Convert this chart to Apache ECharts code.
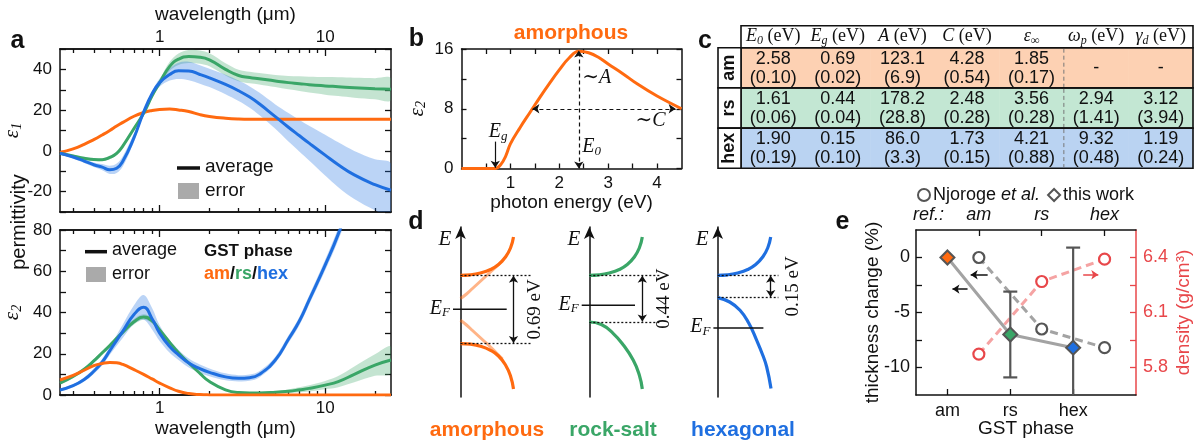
<!DOCTYPE html>
<html><head><meta charset="utf-8">
<script src="https://cdn.jsdelivr.net/npm/echarts@6/dist/echarts.min.js"></script>
<style>html,body{margin:0;padding:0;background:#fff}#c{width:1200px;height:446px}</style>
</head><body><div id="c"></div>
<script>
// ================= DATA =================
// panel a : permittivity vs wavelength (µm)
const wavelength = [0.25,0.3,0.35,0.4,0.45,0.5,0.55,0.6,0.7,0.8,0.9,1.0,1.15,1.3,1.5,1.75,2,2.5,3,3.5,4,5,6,7,8,10,12,15,20,25];
const eps1_am  = [-0.8,1.0,3.2,5.5,7.8,10,12.2,14,17,18.8,19.8,20.3,20.5,20.1,19.3,17.8,16.9,16.0,15.6,15.5,15.5,15.5,15.5,15.5,15.5,15.5,15.5,15.5,15.5,15.5];
const eps1_rs  = [-1.2,-2.5,-3.6,-4.2,-4.3,-3.2,-1.2,2.5,11,18.5,27,33.5,41.5,45,46.3,46,44.7,40,37,36,35.4,34.3,33.5,33,32.5,31.9,31.5,31,30.5,30.2];
const eps1_rs_err = [0.6,0.6,0.6,0.7,0.7,0.8,0.8,0.9,1,1,1.2,1.5,2.2,2.8,3.2,3.3,3.2,3,2.8,2.8,2.8,3,3.3,3.6,3.9,4.3,4.6,4.9,5.2,5.4];
const eps1_hex = [-1.2,-3,-5,-6.8,-8.0,-9.3,-8.5,-5,6.5,19,28,33.5,37.5,39.3,39.2,37.5,35.8,32.6,29.5,26.4,23.1,16.8,11.6,7.4,3.8,-2.1,-6.8,-11.8,-16.6,-19.3];
const eps1_hex_err = [0.5,0.7,0.9,1.1,1.5,2,2.3,2.5,2,1.2,1.2,2,3,4,4.5,4.5,4.5,4.8,5,5.2,5.5,6,7,7.8,8.5,10,11,11.8,12.5,13];
const eps2_am  = [7.3,9.5,12,14.2,15.3,15.8,15.6,14.8,12.3,10,7.8,5.8,3.5,1.8,0.7,0.2,0.05,0,0,0,0,0,0,0,0,0,0,0,0,0];
const eps2_rs  = [5.8,9,12.5,16.5,20.5,24,27.5,30.5,35.5,37.8,36,31.5,25.5,20.5,15.5,10.5,6.5,2.5,1.2,1,1,1.3,1.8,2.5,3.2,4.8,6.5,10,14.5,17];
const eps2_rs_err = [0.6,0.7,0.8,0.9,1,1,1.1,1.2,1.3,1.3,1.2,1,0.9,0.8,0.7,0.6,0.5,0.4,0.4,0.4,0.5,0.7,0.9,1.2,1.5,2,2.7,3.8,5.2,6.5];
const eps2_hex = [2.4,4.5,7.5,11.5,16,21.5,26.5,31,39,42.5,37,30,23.5,19.5,15.5,12.8,11,8.8,8.1,8.4,10,17,27,36,46,63,78,100,140,180];
const eps2_hex_err = [0.5,0.7,1,1.3,1.6,2,2.6,3.3,4.5,6,5.2,3.8,3,2.5,2.2,2,1.9,1.7,1.5,1.5,1.5,1.6,1.8,2,2.2,2.6,3,3.5,4,4.5];
const wlMajor = [1, 10];
const wlMinor = [0.3,0.4,0.5,0.6,0.7,0.8,0.9,2,3,4,5,6,7,8,9,20];
const eps1Ticks = [-30,-20,-10,0,10,20,30,40,50];
const eps1Labels = [-20,0,20,40];
const eps2Ticks = [0,10,20,30,40,50,60,70,80];
const eps2Labels = [0,20,40,60,80];

// panel b : Tauc-Lorentz eps2 of amorphous phase
const photonEnergy = [0,0.5,0.69,0.8,0.9,1.0,1.2,1.4,1.6,1.8,2.0,2.2,2.4,2.6,2.8,3.0,3.3,3.6,4.0,4.5];
const tlEps2 = [0,0,0,0.5,1.6,3.3,5.5,7.5,9.5,11.4,13.2,14.8,15.7,15.5,14.9,14,12.7,11.3,9.7,8.0];
const energyTicks = [0.5,1,1.5,2,2.5,3,3.5,4];
const energyLabels = [1,2,3,4];
const tlTicks = [0,4,8,12,16];
const tlLabels = [0,8,16];
const peakE = 2.4, peakEps = 15.8, gapE = 0.69, widthEps = 8, widthFrom = 1.45, widthTo = 4.38;

// panel c : fit parameters
const tableRows = ['am','rs','hex'];
const tableHeaders = ['{i|E}{s|0}{r| (eV)}','{i|E}{s|g}{r| (eV)}','{i|A}{r| (eV)}','{i|C}{r| (eV)}','{i|ε}{s|∞}','{i|ω}{s|p}{r| (eV)}','{i|γ}{s|d}{r| (eV)}'];
const val_am  = ['2.58','0.69','123.1','4.28','1.85','-','-'];
const err_am  = ['0.10','0.02','6.9','0.54','0.17','',''];
const val_rs  = ['1.61','0.44','178.2','2.48','3.56','2.94','3.12'];
const err_rs  = ['0.06','0.04','28.8','0.28','0.28','1.41','3.94'];
const val_hex = ['1.90','0.15','86.0','1.73','4.21','9.32','1.19'];
const err_hex = ['0.19','0.10','3.3','0.15','0.88','0.48','0.24'];

// panel d : schematic band diagrams (schematic energy units)
const bandNames = ['amorphous','rock-salt','hexagonal'];
const gapText = ['0.69 eV','0.44 eV','0.15 eV'];
const cbEdge = [121.7,121.7,121.7];
const vbEdge = [53.4,75,99.4];
const efLevel = [87.7,91.7,69];
const efSpan = [[-7.5,46.2],[-7.6,45.7],[-4.3,45.7]];
const dotEnd = [70,70.7,60.7];
const gapArrowK = 53;
const cb_am  = [[0,121.7],[10,122.2],[20,124],[30,127.5],[38,132.5],[45,140],[50,149],[53,160]];
const cb_rs  = [[0,121.7],[10,122.2],[20,124],[30,127.5],[38,132.5],[45,140],[50,149],[53,160]];
const cb_hex = [[0,121.7],[10,122.2],[20,124],[30,127.5],[38,132.5],[45,140],[50,149],[53,160]];
const vb_am  = [[0,53.4],[10,52.8],[20,50.8],[30,46.7],[38,41],[45,32],[50,21],[53,8]];
const vb_rs  = [[0,75],[12,72.5],[24,63.4],[34,52],[44,36.7],[50,22],[53,8]];
const vb_hex = [[0,99.4],[12,95],[22.3,86.7],[31,74],[39,56.7],[45,42],[49,30],[53.3,8.4]];
const tailCb_am = [[0,98.4],[6,103],[12,108.5],[18,114],[24,119.5],[30,125],[36,130.5],[42,136]];
const tailVb_am = [[0,76.7],[6,72],[12,66.5],[18,61],[24,55.5],[30,50],[36,44],[42,38]];

// panel e : thickness change & density
const gstPhases = ['am','rs','hex'];
const thisWorkX = [0,1,2];
const thisWorkThick = [0,-7.0,-8.2];
const thisWorkErr = [0,3.9,9.1];
const refX = [0.5,1.5,2.5];
const refThick = [0,-6.5,-8.2];
const refDensity = [5.873,6.269,6.391];
const thickTicks = [-10,-7.5,-5,-2.5,0];
const thickLabels = [-10,-5,0];
const densTicks = [5.8,5.95,6.1,6.25,6.4];
const densLabels = [5.8,6.1,6.4];

// ================= STYLE =================
const SANS = '"Liberation Sans", Arial, Helvetica, sans-serif';
const SERIF = '"Liberation Serif", "DejaVu Serif", "Times New Roman", serif';
const INK = '#111111';
const C_AM = '#ff6a10', C_RS = '#3aa667', C_HEX = '#1f6fe0';
const F_RS = 'rgba(58,166,103,0.30)', F_HEX = 'rgba(31,111,224,0.30)';
const RED = '#e8474a';
const ROWFILL = ['#fdd1b3','#c3e7d3','#bad3f2'];
const PHASECOL = [C_AM, C_RS, C_HEX];

function clean(o){
  if (Array.isArray(o)) return o.map(clean);
  if (o && typeof o === 'object' && !(o instanceof Function)) {
    const r = {};
    for (const k in o) if (o[k] !== undefined) r[k] = clean(o[k]);
    return r;
  }
  return o;
}
const mathRich = (fs) => ({
  i:{fontFamily:SERIF,fontStyle:'italic',fontSize:fs,lineHeight:fs+2,color:INK,fill:INK},
  s:{fontFamily:SERIF,fontStyle:'italic',fontSize:Math.round(fs*0.65),lineHeight:Math.round(fs*0.65),verticalAlign:'bottom',color:INK,fill:INK},
  n:{fontFamily:SERIF,fontSize:fs,lineHeight:fs+2,color:INK,fill:INK},
  r:{fontFamily:SERIF,fontSize:fs,lineHeight:fs+2,color:INK,fill:INK}
});

function ax(o){
  const color = o.color || INK;
  const a = {
    type:o.type||'value', gridIndex:o.grid, position:o.pos, min:o.min, max:o.max, show:o.show!==false,
    axisLine:{show:true,onZero:!!o.onZero,lineStyle:{color,width:1.5},symbol:o.symbol,symbolSize:o.symbolSize},
    axisTick:{show:!!o.ticks,inside:true,length:o.tickLen||6,customValues:o.ticks,lineStyle:{color,width:1.3}},
    axisLabel:{show:!!o.labels,customValues:o.labels,formatter:o.fmt,color,fontFamily:SANS,fontSize:o.fs||17,
      margin:(o.margin!==undefined?o.margin:6),fontStyle:o.fontStyle,rich:o.rich,hideOverlap:false},
    splitLine:{show:false}, minorTick:{show:false}, minorSplitLine:{show:false},
    nameMoveOverlap:false
  };
  if (o.name){
    a.name=o.name; a.nameLocation='middle'; a.nameGap=o.nameGap;
    a.nameTextStyle=Object.assign({color,fontFamily:SANS,fontSize:19},o.nameStyle||{});
  }
  if (o.type==='log') a.logBase=10;
  if (o.type==='category'){ a.data=o.data; a.inverse=o.inverse; }
  return clean(a);
}

// ================= GRIDS =================
const grids = [
  {left:60, top:49, width:331, height:163},     // 0 a top
  {left:60, top:230, width:331, height:165},    // 1 a bottom
  {left:461.5, top:49, width:220, height:119.5},// 2 b
  {left:430.5, top:227, width:110, height:170}, // 3 d am
  {left:559.3, top:227, width:110, height:170}, // 4 d rs
  {left:687.7, top:227, width:110, height:170}, // 5 d hex
  {left:916, top:230, width:220, height:165},   // 6 e
  {left:741, top:47.7, width:452, height:120.6} // 7 table
].map(g=>Object.assign({containLabel:false,outerBoundsMode:'none',show:false},g));

const wl = {type:'log',min:0.25,max:25};
const xAxes = [
  ax(Object.assign({grid:0,pos:'top',ticks:wlMajor,tickLen:7,labels:wlMajor,margin:3,name:'wavelength (μm)',nameGap:25},wl)), //0
  ax(Object.assign({grid:0,pos:'top',ticks:wlMinor,tickLen:4},wl)),   //1
  ax(Object.assign({grid:0,pos:'bottom',ticks:wlMajor,tickLen:7},wl)),//2
  ax(Object.assign({grid:0,pos:'bottom',ticks:wlMinor,tickLen:4},wl)),//3
  ax(Object.assign({grid:1,pos:'top',ticks:wlMajor,tickLen:7},wl)),   //4
  ax(Object.assign({grid:1,pos:'top',ticks:wlMinor,tickLen:4},wl)),   //5
  ax(Object.assign({grid:1,pos:'bottom',ticks:wlMajor,tickLen:7,labels:wlMajor,margin:5,name:'wavelength (μm)',nameGap:24},wl)), //6
  ax(Object.assign({grid:1,pos:'bottom',ticks:wlMinor,tickLen:4},wl)),//7
  ax({grid:2,pos:'bottom',min:0,max:4.5,ticks:energyTicks,tickLen:5,labels:energyLabels,margin:6,name:'photon energy (eV)',nameGap:25}), //8
  ax({grid:2,pos:'top',min:0,max:4.5,ticks:energyTicks,tickLen:5}), //9
  ax({grid:3,pos:'bottom',min:-30,max:80,show:false}), //10
  ax({grid:4,pos:'bottom',min:-30,max:80,show:false}), //11
  ax({grid:5,pos:'bottom',min:-30,max:80,show:false}), //12
  ax({grid:6,pos:'bottom',min:-0.5,max:3,ticks:thisWorkX,tickLen:6,labels:thisWorkX,fs:18,margin:7,
      fmt:v=>gstPhases[Math.round(v)],name:'GST phase',nameGap:24}), //13
  ax({grid:6,pos:'top',min:-0.5,max:3,ticks:refX,tickLen:6,labels:[-0.3].concat(refX),fs:18,margin:6,fontStyle:'italic',
      fmt:v=>(v<0?'ref.:':gstPhases[Math.floor(v)])}), //14
  ax({type:'category',grid:7,pos:'top',data:tableHeaders.map((h,i)=>'c'+i),show:false}) //15
];
const yAxes = [
  ax({grid:0,pos:'left',min:-30,max:50,ticks:eps1Ticks,tickLen:6,labels:eps1Labels,margin:8,
      name:'{i|ε}{s|1}',nameGap:36,nameStyle:{rich:mathRich(21)}}), //0
  ax({grid:0,pos:'right',min:-30,max:50,ticks:eps1Ticks,tickLen:6}), //1
  ax({grid:1,pos:'left',min:0,max:80,ticks:eps2Ticks,tickLen:6,labels:eps2Labels,margin:8,
      name:'{i|ε}{s|2}',nameGap:36,nameStyle:{rich:mathRich(21)}}), //2
  ax({grid:1,pos:'right',min:0,max:80,ticks:eps2Ticks,tickLen:6}), //3
  ax({grid:2,pos:'left',min:0,max:16,ticks:tlTicks,tickLen:5,labels:tlLabels,margin:8,
      name:'{i|ε}{s|2}',nameGap:33,nameStyle:{rich:mathRich(21)}}), //4
  ax({grid:2,pos:'right',min:0,max:16,ticks:tlTicks,tickLen:5}), //5
  ax({grid:3,pos:'left',min:0,max:170,onZero:true,symbol:['none','arrow'],symbolSize:[8,12]}), //6
  ax({grid:4,pos:'left',min:0,max:170,onZero:true,symbol:['none','arrow'],symbolSize:[8,12]}), //7
  ax({grid:5,pos:'left',min:0,max:170,onZero:true,symbol:['none','arrow'],symbolSize:[8,12]}), //8
  ax({grid:6,pos:'left',min:-12.5,max:2.5,ticks:thickTicks,tickLen:6,labels:thickLabels,fs:18,margin:6,
      name:'thickness change (%)',nameGap:34}), //9
  ax({grid:6,pos:'right',min:5.65,max:6.55,ticks:densTicks,tickLen:6,labels:densLabels,fs:18,margin:7,color:RED,
      fmt:v=>v.toFixed(1),name:'density (g/cm³)',nameGap:38}), //10
  ax({type:'category',grid:7,pos:'left',data:tableRows,inverse:true,show:false}) //11
];
xAxes[15].axisLine = {show:false}; yAxes[11].axisLine = {show:false};

// ================= SERIES HELPERS =================
function lineS(xi, yi, pts, color, width, extra){
  return Object.assign({type:'line', xAxisIndex:xi, yAxisIndex:yi, data:pts, symbol:'none', smooth:0.5,
    lineStyle:{color, width}, silent:true, z:3, animation:false}, extra||{});
}
const zip = (xs, ys) => xs.map((x,i)=>[x, ys[i]]);
function bandS(xi, yi, xs, mid, err, fill){
  return {type:'custom', xAxisIndex:xi, yAxisIndex:yi, silent:true, clip:true, z:1,
    data:[[xs[0], mid[0]]],
    renderItem:(params, api)=>{
      const pts=[];
      for (let i=0;i<xs.length;i++) pts.push(api.coord([xs[i], mid[i]+err[i]]));
      for (let i=xs.length-1;i>=0;i--) pts.push(api.coord([xs[i], mid[i]-err[i]]));
      return {type:'polygon', shape:{points:pts, smooth:0.35}, style:{fill}};
    }};
}
function textS(xi, yi, items){
  return {type:'custom', xAxisIndex:xi, yAxisIndex:yi, silent:true, clip:false, z:10,
    data: items.map(it=>[it.at[0], it.at[1]]),
    renderItem:(params, api)=>{
      const it = items[params.dataIndex];
      const p = api.coord([api.value(0), api.value(1)]);
      return {type:'text', x:p[0], y:p[1], rotation:it.rot||0,
        style:{text:it.text, align:it.align||'center', verticalAlign:it.va||'middle',
          fill:it.color||INK, font:it.font||('18px '+SANS), rich:it.rich}};
    }};
}

const series = [];
// ---- panel a ----
series.push(bandS(0,0,wavelength,eps1_rs,eps1_rs_err,F_RS));
series.push(bandS(0,0,wavelength,eps1_hex,eps1_hex_err,F_HEX));
series.push(lineS(0,0,zip(wavelength,eps1_am),C_AM,3));
series.push(lineS(0,0,zip(wavelength,eps1_rs),C_RS,3));
series.push(lineS(0,0,zip(wavelength,eps1_hex),C_HEX,3));
series.push(bandS(6,2,wavelength,eps2_rs,eps2_rs_err,F_RS));
series.push(bandS(6,2,wavelength,eps2_hex,eps2_hex_err,F_HEX));
series.push(lineS(6,2,zip(wavelength,eps2_rs),C_RS,3));
series.push(lineS(6,2,zip(wavelength,eps2_hex),C_HEX,3));
series.push(lineS(6,2,zip(wavelength,eps2_am),C_AM,3));

// ---- panel b ----
series.push(lineS(8,4,zip(photonEnergy,tlEps2),C_AM,3,{smooth:0.4,
  markLine:{silent:true,symbol:['arrow','arrow'],symbolSize:7,label:{show:false},animation:false,
    lineStyle:{color:INK,type:[4,3],width:1.2},
    data:[
      [{coord:[peakE,0]},{coord:[peakE,peakEps]}],
      [{coord:[widthFrom,widthEps]},{coord:[widthTo,widthEps]}],
      [{coord:[gapE,3.6],symbol:'none',lineStyle:{type:'solid',color:INK,width:1.2}},{coord:[gapE,0.1]}]
    ]}}));
series.push(textS(8,4,[
  {at:[peakE+0.07,12.2], text:'{n|∼}{i|A}', align:'left', rich:mathRich(20)},
  {at:[3.56,6.45], text:'{n|∼}{i|C}', align:'left', rich:mathRich(20)},
  {at:[peakE+0.07,2.9], text:'{i|E}{s|0}', align:'left', rich:mathRich(20)},
  {at:[gapE+0.06,4.9], text:'{i|E}{s|g}', align:'center', rich:mathRich(20)}
]));

// ---- panel d ----
const cbs=[cb_am,cb_rs,cb_hex], vbs=[vb_am,vb_rs,vb_hex];
for (let k=0;k<3;k++){
  const xi=10+k, yi=6+k, col=PHASECOL[k];
  if (k===0){
    series.push(lineS(xi,yi,tailCb_am,'rgba(255,106,16,0.5)',3,{z:2}));
    series.push(lineS(xi,yi,tailVb_am,'rgba(255,106,16,0.5)',3,{z:2}));
  }
  series.push(lineS(xi,yi,cbs[k],col,3.2));
  series.push(lineS(xi,yi,vbs[k],col,3.2));
  series.push(lineS(xi,yi,[[efSpan[k][0],efLevel[k]],[efSpan[k][1],efLevel[k]]],INK,1.5,{smooth:false,
    markLine:{silent:true,symbol:['none','none'],label:{show:false},animation:false,
      lineStyle:{color:INK,type:[2,2],width:1.3},
      data:[
        [{coord:[0,cbEdge[k]]},{coord:[dotEnd[k],cbEdge[k]]}],
        [{coord:[0,vbEdge[k]]},{coord:[dotEnd[k],vbEdge[k]]}],
        [{coord:[gapArrowK,cbEdge[k]-0.5],symbol:'arrow',symbolSize:7,lineStyle:{type:'solid',color:INK,width:1.3}},
         {coord:[gapArrowK,vbEdge[k]+0.5],symbol:'arrow',symbolSize:7}]
      ]}}));
  series.push(textS(xi,yi,[
    {at:[-15.5,157.7], text:'{i|E}', rich:mathRich(21)},
    {at:[efSpan[k][0]-3,efLevel[k]+1], text:'{i|E}{s|F}', align:'right', rich:mathRich(20)},
    {at:[75,(cbEdge[k]+vbEdge[k])/2], text:gapText[k], rot:Math.PI/2, font:'19px '+SERIF}
  ]));
}

// ---- panel e ----
series.push({type:'custom', name:'errbars', xAxisIndex:13, yAxisIndex:9, clip:true, silent:true, z:4,
  encode:{x:0,y:[1,2]},
  data: thisWorkX.map((x,i)=>[x, thisWorkThick[i]-thisWorkErr[i], thisWorkThick[i]+thisWorkErr[i]]).filter((d,i)=>thisWorkErr[i]>0),
  renderItem:(params, api)=>{
    const x=api.value(0), lo=api.value(1), hi=api.value(2);
    const t=api.coord([x,hi]), b=api.coord([x,lo]); const cap=7;
    const st={stroke:'#555',lineWidth:2.2};
    return {type:'group',children:[
      {type:'line',shape:{x1:t[0],y1:t[1],x2:b[0],y2:b[1]},style:st},
      {type:'line',shape:{x1:t[0]-cap,y1:t[1],x2:t[0]+cap,y2:t[1]},style:st},
      {type:'line',shape:{x1:b[0]-cap,y1:b[1],x2:b[0]+cap,y2:b[1]},style:st}]};
  }});
series.push({type:'line', name:'Njoroge et al.', xAxisIndex:13, yAxisIndex:9, z:3, animation:false,
  data:zip(refX,refThick), symbol:'circle', symbolSize:11,
  itemStyle:{color:'#fff',borderColor:'#555',borderWidth:2.2},
  lineStyle:{color:'#a3a3a3',width:3,type:[8,5]},
  markLine:{silent:true,label:{show:false},animation:false,lineStyle:{color:INK,width:1.5,type:'solid'},symbolSize:7,
    data:[
      [{coord:[0.32,-2.87],symbol:'none'},{coord:[0.08,-2.87],symbol:'arrow'}],
      [{coord:[0.64,-1.57],symbol:'none'},{coord:[0.37,-1.57],symbol:'arrow'}]
    ]}});
series.push({type:'line', name:'density', xAxisIndex:13, yAxisIndex:10, z:3, animation:false,
  data:zip(refX,refDensity), symbol:'circle', symbolSize:11,
  itemStyle:{color:'#fff',borderColor:RED,borderWidth:2.2},
  lineStyle:{color:'#f5a3a3',width:3,type:[8,5]},
  markLine:{silent:true,label:{show:false},animation:false,lineStyle:{color:RED,width:1.5,type:'solid'},symbolSize:7,
    data:[[{coord:[2.16,6.306],symbol:'none'},{coord:[2.40,6.306],symbol:'arrow'}]]}});
series.push({type:'line', name:'this work', xAxisIndex:13, yAxisIndex:9, z:5, animation:false,
  data:thisWorkX.map((x,i)=>({value:[x,thisWorkThick[i]], itemStyle:{color:PHASECOL[i]}})),
  symbol:'diamond', symbolSize:14,
  itemStyle:{borderColor:'#555',borderWidth:2},
  lineStyle:{color:'#a3a3a3',width:3}});

// ---- panel c : table ----
const tableVals=[val_am,val_rs,val_hex], tableErrs=[err_am,err_rs,err_hex];
const cellData=[];
for (let r=0;r<3;r++) for (let c=0;c<7;c++) cellData.push([c,r]);
series.push({type:'custom', xAxisIndex:15, yAxisIndex:11, silent:true, z:2,
  data:cellData,
  renderItem:(params, api)=>{
    const c=api.value(0), r=api.value(1);
    const p=api.coord([c,r]); const sz=api.size([1,1]);
    const v=tableVals[r][c], e=tableErrs[r][c];
    return {type:'group',children:[
      {type:'rect',shape:{x:p[0]-sz[0]/2,y:p[1]-sz[1]/2,width:sz[0]+0.5,height:sz[1]},style:{fill:ROWFILL[r]}},
      {type:'text',x:p[0],y:p[1]+0.5,style:{text:e?v+'\n('+e+')':v,align:'center',verticalAlign:'middle',
        font:'18px '+SANS,lineHeight:19,fill:INK}}]};
  }});
series.push({type:'custom', xAxisIndex:15, yAxisIndex:11, silent:true, z:3,
  data:tableRows.map((n,r)=>[0,r]),
  renderItem:(params, api)=>{
    const r=api.value(1); const cs=params.coordSys;
    const p=api.coord([0,r]); const sz=api.size([1,1]);
    const y0=p[1]-sz[1]/2; const xd=api.coord([5,r])[0]-sz[0]/2;
    const ch=[
      {type:'rect',shape:{x:cs.x,y:y0,width:cs.width,height:sz[1]},style:{fill:null,stroke:INK,lineWidth:1.6}},
      {type:'line',shape:{x1:xd,y1:y0+1,x2:xd,y2:y0+sz[1]-1},style:{stroke:'#777',lineWidth:1,lineDash:[4,3]}},
      {type:'rect',shape:{x:cs.x-23,y:y0,width:23,height:sz[1]},style:{fill:'#fff',stroke:INK,lineWidth:1.6}},
      {type:'text',x:cs.x-11.5,y:p[1],rotation:Math.PI/2,style:{text:tableRows[r],align:'center',verticalAlign:'middle',
        font:'bold 18px '+SANS,fill:INK}}
    ];
    if (r===0) ch.push({type:'rect',shape:{x:cs.x,y:cs.y-22,width:cs.width,height:22},style:{fill:'#fff',stroke:INK,lineWidth:1.6}});
    return {type:'group',children:ch};
  }});
series.push({type:'custom', xAxisIndex:15, yAxisIndex:11, silent:true, z:4,
  data:tableHeaders.map((h,c)=>[c,0]),
  renderItem:(params, api)=>{
    const c=api.value(0); const cs=params.coordSys; const p=api.coord([c,0]);
    return {type:'text',x:p[0],y:cs.y-11,style:{text:tableHeaders[c],align:'center',verticalAlign:'middle',rich:mathRich(18)}};
  }});

// ================= GRAPHIC (panel letters, legends, titles) =================
const T = (x,y,text,font,fill,extra)=>Object.assign({type:'text',x,y,silent:true,z:20,
  style:{text,font,fill:fill||INK,align:'center',verticalAlign:'middle'}},extra||{});
const boldTok = (c)=>({fontFamily:SANS,fontWeight:'bold',fontSize:18,fill:c,color:c});
const graphic = [
  T(17.5,41,'a','bold 25px '+SANS), T(416.5,39,'b','bold 25px '+SANS), T(705,41.5,'c','bold 25px '+SANS),
  T(416,222,'d','bold 25px '+SANS), T(842.5,222.5,'e','bold 25px '+SANS),
  T(19,222,'permittivity','20px '+SANS,INK,{rotation:Math.PI/2}),
  {type:'line',shape:{x1:177,y1:168,x2:200,y2:168},style:{stroke:INK,lineWidth:3.5},z:20},
  {type:'text',x:205,y:167,z:20,style:{text:'average',font:'19px '+SANS,fill:INK,verticalAlign:'middle'}},
  {type:'rect',shape:{x:178,y:183,width:21,height:16},style:{fill:'#aaaaaa'},z:20},
  {type:'text',x:205,y:191,z:20,style:{text:'error',font:'19px '+SANS,fill:INK,verticalAlign:'middle'}},
  {type:'line',shape:{x1:85,y1:251.7,x2:107,y2:251.7},style:{stroke:INK,lineWidth:3.5},z:20},
  {type:'text',x:112,y:250.5,z:20,style:{text:'average',font:'18px '+SANS,fill:INK,verticalAlign:'middle'}},
  {type:'rect',shape:{x:86,y:267,width:20,height:15},style:{fill:'#aaaaaa'},z:20},
  {type:'text',x:112,y:274,z:20,style:{text:'error',font:'18px '+SANS,fill:INK,verticalAlign:'middle'}},
  {type:'text',x:204,y:251,z:20,style:{text:'GST phase',font:'bold 17px '+SANS,fill:INK,verticalAlign:'middle'}},
  {type:'text',x:204,y:274,z:20,style:{text:'{a|am}{k|/}{r|rs}{k|/}{h|hex}',verticalAlign:'middle',
    rich:{a:boldTok(C_AM),r:boldTok(C_RS),h:boldTok(C_HEX),k:boldTok(INK)}}},
  T(571,33,'amorphous','bold 21px '+SANS,C_AM),
  T(487,430,bandNames[0],'bold 21px '+SANS,C_AM),
  T(613,430,bandNames[1],'bold 21px '+SANS,C_RS),
  T(743,430,bandNames[2],'bold 21px '+SANS,C_HEX)
];

const option = {
  animation:false,
  backgroundColor:'#ffffff',
  grid:grids, xAxis:xAxes, yAxis:yAxes, series, graphic,
  legend:{show:true, selectedMode:false, left:912, top:181, itemWidth:12, itemHeight:12, itemGap:7,
    data:[
      {name:'Njoroge et al.', icon:'circle', itemStyle:{color:'#fff',borderColor:'#555',borderWidth:2}},
      {name:'this work', icon:'diamond', itemStyle:{color:'#fff',borderColor:'#555',borderWidth:2}}
    ],
    formatter:n=>n==='Njoroge et al.'?'Njoroge {i|et al.}':n,
    textStyle:{fontFamily:SANS,fontSize:18,color:INK,padding:[0,0,0,-2],
      rich:{i:{fontFamily:SANS,fontStyle:'italic',fontSize:18,color:INK}}}}
};
const chart = echarts.init(document.getElementById('c'), null, {renderer:'canvas', width:1200, height:446});
chart.setOption(option);
</script></body></html>
